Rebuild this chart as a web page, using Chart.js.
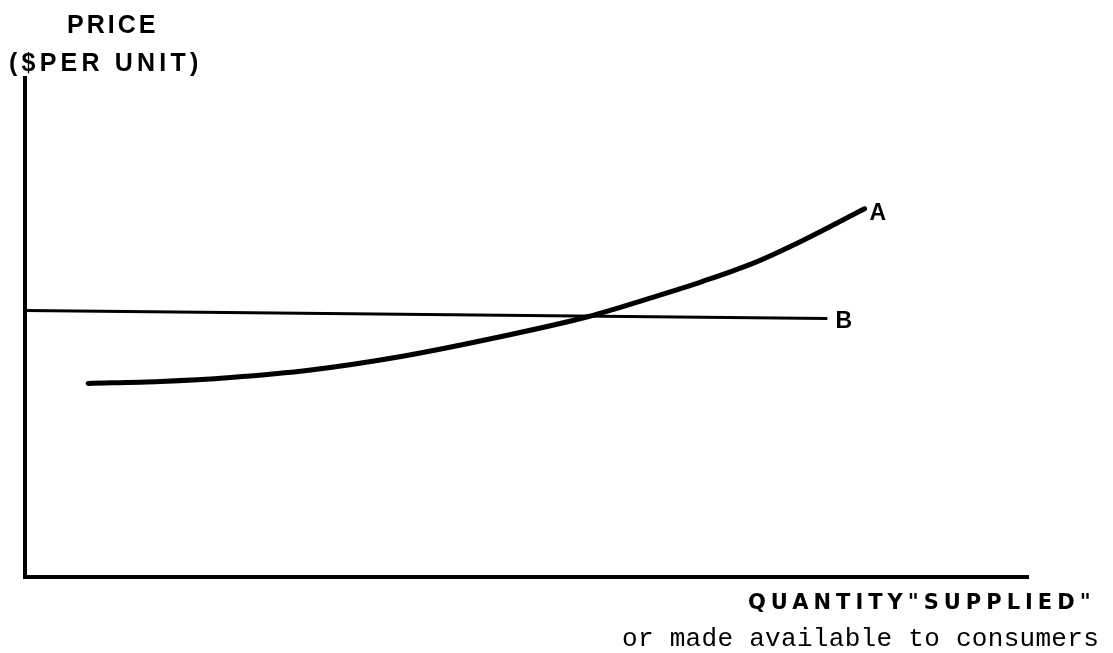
<!DOCTYPE html>
<html>
<head>
<meta charset="utf-8">
<script src="https://cdn.jsdelivr.net/npm/chart.js@4/dist/chart.umd.min.js"></script>
<style>
html,body{margin:0;padding:0;background:#fff;}
#wrap{width:1113px;height:653px;position:relative;}
</style>
</head>
<body>
<div id="wrap"><canvas id="c" width="1113" height="653"></canvas></div>
<script>
// Quantity supplied (arbitrary units 0-100) and price (arbitrary units 0-100)
const curveAQuantity = [6.3, 13.5, 20.5, 28.5, 37.5, 47.5, 56.2, 62.5, 67.5, 72.5, 77.5, 83.7];
const curveAPrice    = [38.8, 39.2, 40.0, 41.5, 44.2, 48.2, 52.2, 56.0, 59.2, 62.8, 67.4, 73.8];
const lineBQuantity  = [0.0, 80.0];
const lineBPrice     = [53.4, 51.8];
const seriesLabels   = ['A', 'B'];
const yTitleLines    = ['PRICE', '($PER UNIT)'];
const xTitleLines    = ['QUANTITY"SUPPLIED"', 'or made available to consumers'];

const toPts = (xs, ys) => xs.map((x, i) => ({x: x, y: ys[i]}));

const textPlugin = {
  id: 'texts',
  afterDraw(chart) {
    const ctx = chart.ctx;
    const xs = chart.scales.x, ys = chart.scales.y;
    ctx.save();
    ctx.fillStyle = '#000';
    ctx.textBaseline = 'alphabetic';
    // y title
    ctx.font = 'bold 25px "Liberation Sans", Arial, sans-serif';
    ctx.letterSpacing = '3px';
    ctx.textAlign = 'left';
    ctx.fillText(yTitleLines[0], 67, 33);
    ctx.letterSpacing = '4.2px';
    ctx.fillText(yTitleLines[1], 9, 71);
    // x title
    ctx.font = 'bold 21px "DejaVu Sans", sans-serif';
    ctx.letterSpacing = '5px';
    ctx.textAlign = 'left';
    ctx.fillText(xTitleLines[0], 748, 609);
    ctx.font = '26px "Liberation Mono", "DejaVu Sans Mono", monospace';
    ctx.letterSpacing = '0.3px';
    ctx.fillText(xTitleLines[1], 622, 646);
    // series labels
    ctx.font = 'bold 23px "Liberation Sans", Arial, sans-serif';
    ctx.letterSpacing = '0px';
    const n = curveAQuantity.length - 1;
    ctx.fillText(seriesLabels[0], xs.getPixelForValue(curveAQuantity[n]) + 5, ys.getPixelForValue(curveAPrice[n]) + 11);
    ctx.fillText(seriesLabels[1], xs.getPixelForValue(lineBQuantity[1]) + 8, ys.getPixelForValue(lineBPrice[1]) + 9);
    ctx.restore();
  }
};

new Chart(document.getElementById('c'), {
  type: 'scatter',
  data: {
    datasets: [
      {
        label: seriesLabels[0],
        data: toPts(curveAQuantity, curveAPrice),
        showLine: true,
        borderColor: '#000',
        borderWidth: 5,
        borderCapStyle: 'round',
        pointRadius: 0,
        cubicInterpolationMode: 'monotone',
        fill: false
      },
      {
        label: seriesLabels[1],
        data: toPts(lineBQuantity, lineBPrice),
        showLine: true,
        borderColor: '#000',
        borderWidth: 3,
        pointRadius: 0,
        fill: false
      }
    ]
  },
  options: {
    responsive: false,
    animation: false,
    devicePixelRatio: 1,
    layout: { padding: { left: 25, top: 78, right: 85, bottom: 76 } },
    plugins: { legend: { display: false }, tooltip: { enabled: false }, title: { display: false } },
    scales: {
      x: {
        type: 'linear', min: 0, max: 100,
        grid: { display: false, drawTicks: false },
        border: { display: true, color: '#000', width: 4 },
        ticks: { display: false }
      },
      y: {
        type: 'linear', min: 0, max: 100,
        grid: { display: false, drawTicks: false },
        border: { display: true, color: '#000', width: 4 },
        ticks: { display: false }
      }
    }
  },
  plugins: [textPlugin]
});
</script>
</body>
</html>
